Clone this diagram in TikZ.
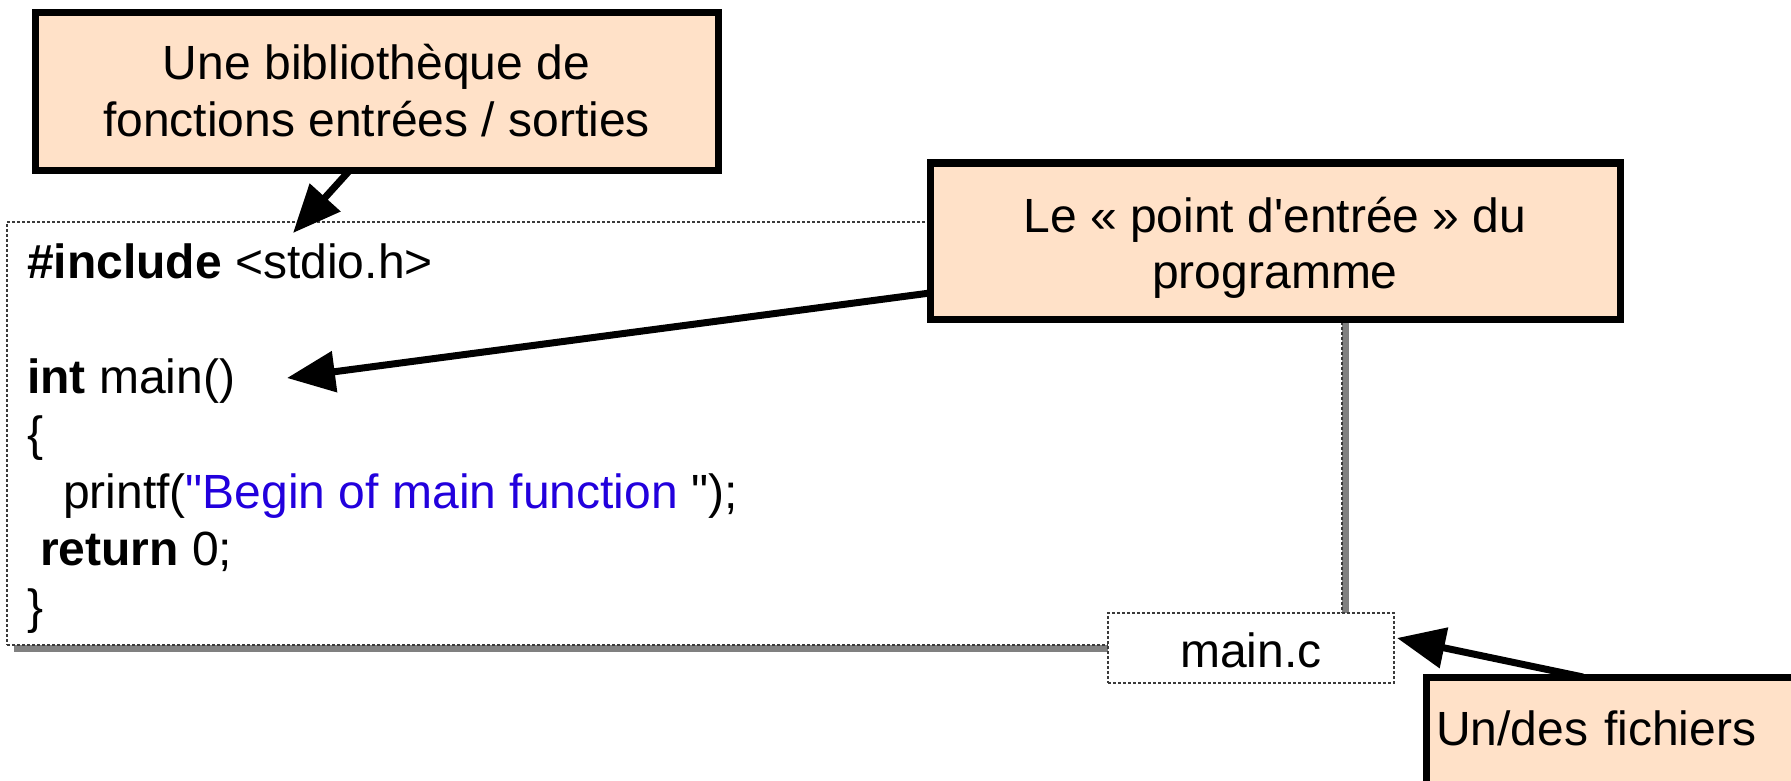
\documentclass[tikz,border=0pt]{standalone}
\usepackage{fontspec}
\setmainfont{Liberation Sans}
\usetikzlibrary{arrows.meta,shadows}

\definecolor{peach}{HTML}{FFE1C8}
\definecolor{strblue}{HTML}{2200DD}
\definecolor{shadowgray}{HTML}{808080}
\definecolor{dashgray}{HTML}{3A3A3A}

\newcommand\slidefont{\fontsize{48}{57}\selectfont}

\tikzset{
  callout/.style={draw=black, line width=7pt, fill=peach, outer sep=0pt, inner sep=0pt},
  calltext/.style={anchor=base, inner sep=0pt, font=\slidefont},
  codeline/.style={anchor=base west, inner sep=0pt, font=\slidefont},
  pointer/.style={line width=7pt, -{Triangle[length=48pt,width=40pt]}},
  sheet/.style={draw=dashgray, line width=1.3pt, dash pattern=on 3pt off 2pt,
                fill=white, outer sep=0pt, inner sep=0pt},
}

\begin{document}
\begin{tikzpicture}[x=1pt,y=-1pt]
\useasboundingbox (0,0) rectangle (1791,781);
\clip (0,0) rectangle (1791,781);

% the source file, with its shadow
\node[sheet, minimum width=1335pt, minimum height=423pt,
      drop shadow={shadow xshift=7pt, shadow yshift=-7pt, fill=shadowgray, opacity=1}]
      (codebox) at (674.5,433.5) {};

% program text
\node[codeline] (inc)    at (27,278)   {\textbf{\#include} <stdio.h>};
\node[codeline] (mainfn) at (27,393)   {\textbf{int} main()};
\node[codeline] (open)   at (27,450.5) {\{};
\node[codeline] (printf) at (63,508)   {printf(\textcolor{strblue}{\textquotedbl Begin of main function }\textquotedbl);};
\node[codeline] (ret)    at (40,565.5) {\textbf{return} 0;};
\node[codeline] (close)  at (27,623)   {\}};

% file name tab
\node[sheet, minimum width=286pt, text height=54pt, text depth=16pt, font=\slidefont]
      (mainc) at (1251,648) {main.c};

% callouts
\node[callout, minimum width=683pt, minimum height=157pt] (lib) at (376.5,91.5) {};
\node[calltext] (lib1) at (376.5,80)  {Une bibliothèque de};
\node[calltext] (lib2) at (376.5,137) {fonctions entrées / sorties};

\node[callout, minimum width=690pt, minimum height=156pt] (entry) at (1275,241) {};
\node[calltext] (entry1) at (1275,232) {Le « point d\textquotesingle entrée » du};
\node[calltext] (entry2) at (1275,288) {programme};

\node[callout, anchor=north west, inner xsep=10pt, text width=400pt,
      text height=68pt, text depth=80pt, font=\slidefont]
      (files) at (1426,677) {Un/des fichiers};

% pointers
\coordinate (incTip)  at (293,233);
\coordinate (mainTip) at (287,378);
\draw[pointer] ([xshift=-26.5pt]lib.south) -- (incTip);
\draw[pointer] ([yshift=-52pt]entry.west) -- (mainTip);
\draw[pointer] ([xshift=-53pt]files.north) -- ([xshift=3pt,yshift=10pt]mainc.east);
\end{tikzpicture}
\end{document}
